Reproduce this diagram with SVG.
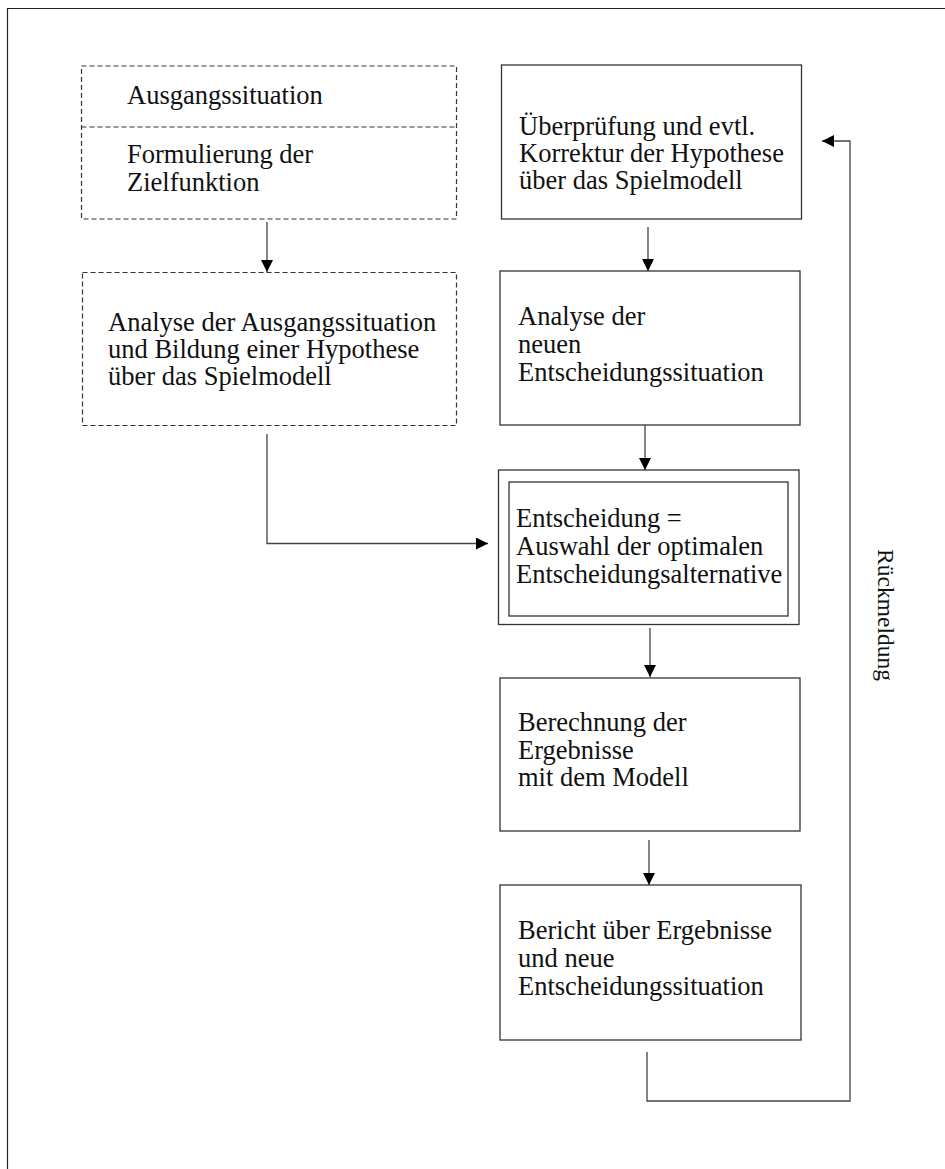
<svg xmlns="http://www.w3.org/2000/svg" width="945" height="1169" viewBox="0 0 945 1169">
  <defs>
    <style>
      .frame { fill: none; stroke: #222; stroke-width: 1.2; }
      .box { fill: #fff; stroke: #333; stroke-width: 1.3; }
      .dash { fill: #fff; stroke: #333; stroke-width: 1.2; stroke-dasharray: 5 3; }
      .dline { fill: none; stroke: #333; stroke-width: 1.2; stroke-dasharray: 5 3; }
      .conn { fill: none; stroke: #444; stroke-width: 1.3; }
      .lbl { font-family: "Liberation Serif", "Times New Roman", serif; font-size: 26.5px; fill: #111; }
      .side { font-family: "Liberation Serif", "Times New Roman", serif; font-size: 23.5px; fill: #111; }
    </style>
    <marker id="ah" viewBox="0 0 12 12" refX="12" refY="6" markerWidth="12" markerHeight="12" markerUnits="userSpaceOnUse" orient="auto">
      <path d="M0,0 L12,6 L0,12 Z" fill="#000"/>
    </marker>
  </defs>

  <rect width="945" height="1169" fill="#fff"/>

  <!-- page frame: only top and left edges fall inside the sheet -->
  <path class="frame" d="M7.5,1169 V8.5 H945"/>

  <g id="ausgangssituation">
    <rect class="dash" x="81.5" y="66" width="375" height="153"/>
    <line class="dline" x1="81.5" y1="127" x2="456.5" y2="127"/>
    <text class="lbl" x="127" y="104">Ausgangssituation</text>
    <text class="lbl" x="127" y="163">Formulierung der</text>
    <text class="lbl" x="127" y="191">Zielfunktion</text>
  </g>

  <g id="analyse-ausgang">
    <rect class="dash" x="82.5" y="272.5" width="374" height="153"/>
    <text class="lbl" x="108" y="331">Analyse der Ausgangssituation</text>
    <text class="lbl" x="108" y="358">und Bildung einer Hypothese</text>
    <text class="lbl" x="108" y="385">über das Spielmodell</text>
  </g>

  <g id="ueberpruefung">
    <rect class="box" x="501.5" y="65" width="300" height="154"/>
    <text class="lbl" x="519" y="135">Überprüfung und evtl.</text>
    <text class="lbl" x="519" y="162">Korrektur der Hypothese</text>
    <text class="lbl" x="519" y="189">über das Spielmodell</text>
  </g>

  <g id="analyse-neu">
    <rect class="box" x="500" y="271" width="300" height="154"/>
    <text class="lbl" x="518" y="325">Analyse der</text>
    <text class="lbl" x="518" y="353">neuen</text>
    <text class="lbl" x="518" y="381">Entscheidungssituation</text>
  </g>

  <g id="entscheidung">
    <rect class="box" x="498.5" y="470" width="300.5" height="154.5"/>
    <rect class="box" x="509" y="482" width="279" height="134"/>
    <text class="lbl" x="516" y="527">Entscheidung =</text>
    <text class="lbl" x="516" y="555">Auswahl der optimalen</text>
    <text class="lbl" x="516" y="583">Entscheidungsalternative</text>
  </g>

  <g id="berechnung">
    <rect class="box" x="500" y="678" width="300" height="153"/>
    <text class="lbl" x="518" y="731">Berechnung der</text>
    <text class="lbl" x="518" y="759">Ergebnisse</text>
    <text class="lbl" x="518" y="786">mit dem Modell</text>
  </g>

  <g id="bericht">
    <rect class="box" x="500" y="885" width="301" height="155"/>
    <text class="lbl" x="518" y="939">Bericht über Ergebnisse</text>
    <text class="lbl" x="518" y="967">und neue</text>
    <text class="lbl" x="518" y="995">Entscheidungssituation</text>
  </g>

  <g id="rueckmeldung-label">
    <text class="side" transform="translate(878,615) rotate(90)" text-anchor="middle">Rückmeldung</text>
  </g>

  <g id="connectors">
    <path class="conn" d="M267,222 V272" marker-end="url(#ah)"/>
    <path class="conn" d="M267,434 V543.5 H488" marker-end="url(#ah)"/>
    <path class="conn" d="M648,227 V271" marker-end="url(#ah)"/>
    <path class="conn" d="M645,425 V470" marker-end="url(#ah)"/>
    <path class="conn" d="M650,628 V677" marker-end="url(#ah)"/>
    <path class="conn" d="M649,840 V885" marker-end="url(#ah)"/>
    <path class="conn" d="M647,1052 V1101 H850 V141 H822" marker-end="url(#ah)"/>
  </g>
</svg>
